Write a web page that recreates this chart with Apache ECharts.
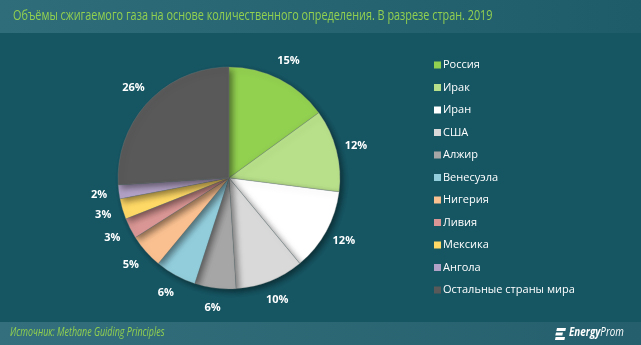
<!DOCTYPE html>
<html>
<head>
<meta charset="utf-8">
<script src="https://cdn.jsdelivr.net/npm/echarts@6/dist/echarts.min.js"></script>
<style>
  html, body { margin: 0; padding: 0; background: #165663; }
  #chart { width: 641px; height: 345px; }
</style>
</head>
<body>
<div id="chart"></div>
<script>
// Flared gas volumes by country, 2019 (share, %)
const countries = ['Россия', 'Ирак', 'Иран', 'США', 'Алжир', 'Венесуэла', 'Нигерия', 'Ливия', 'Мексика', 'Ангола', 'Остальные страны мира'];
const shares = [15, 12, 12, 10, 6, 6, 5, 3, 3, 2, 26];
const sliceColors = ['#92d050', '#b8e08a', '#ffffff', '#d9d9d9', '#a6a6a6', '#92cddc', '#fac090', '#d99694', '#ffd966', '#b3a2c7', '#595959'];

const titleText = 'Объёмы сжигаемого газа на основе количественного определения. В разрезе стран. 2019';
const sourceText = 'Источник: Methane Guiding Principles';

const chart = echarts.init(document.getElementById('chart'), null, { renderer: 'canvas' });

const sans = '"Open Sans", "Noto Sans", sans-serif';
const pieData = countries.map((name, i) => ({ name, value: shares[i] }));

chart.setOption({
  backgroundColor: '#165663',
  animation: false,
  color: sliceColors,
  graphic: [
    // header band
    {
      type: 'rect', left: 0, top: 0, z: -1,
      shape: { width: 641, height: 33 },
      style: {
        fill: new echarts.graphic.LinearGradient(0, 0, 1, 0, [
          { offset: 0, color: '#2f6d7a' },
          { offset: 1, color: '#1f5c6a' }
        ])
      }
    },
    {
      type: 'text', x: 13, y: 9, scaleX: 0.775,
      style: { text: titleText, fill: '#92d050', font: '14px ' + sans }
    },
    // footer band
    {
      type: 'rect', left: 0, top: 322, z: -1,
      shape: { width: 641, height: 23 },
      style: {
        fill: new echarts.graphic.LinearGradient(0, 0, 1, 0, [
          { offset: 0, color: '#336f7c' },
          { offset: 1, color: '#255f6d' }
        ])
      }
    },
    {
      type: 'text', x: 10, y: 327, scaleX: 0.74,
      style: { text: sourceText, fill: '#92d050', font: 'italic 12px ' + sans }
    },
    // EnergyProm logo mark
    {
      type: 'group', x: 555, y: 328,
      children: [
        { type: 'polygon', shape: { points: [[2, 0], [11, 0], [10.3, 3], [1.3, 3]] }, style: { fill: '#ffffff' } },
        { type: 'polygon', shape: { points: [[1, 4.5], [8, 4.5], [7.3, 7.5], [0.3, 7.5]] }, style: { fill: '#ffffff' } },
        { type: 'polygon', shape: { points: [[0.6, 9], [10, 9], [9.4, 12], [0, 12]] }, style: { fill: '#ffffff' } }
      ]
    },
    {
      type: 'text', x: 569, y: 327, scaleX: 0.82,
      style: {
        text: '{a|Energy}{b|Prom}',
        rich: {
          a: { fill: '#ffffff', font: 'italic bold 12px ' + sans },
          b: { fill: '#ffffff', font: 'italic 12px ' + sans }
        }
      }
    }
  ],
  legend: {
    orient: 'vertical',
    left: 429,
    top: 53,
    itemWidth: 7,
    itemHeight: 7,
    itemGap: 8.5,
    icon: 'rect',
    selectedMode: false,
    itemStyle: { borderWidth: 0, shadowBlur: 0, shadowOffsetX: 0, shadowOffsetY: 0 },
    textStyle: { color: '#ffffff', fontSize: 11, lineHeight: 14, fontFamily: sans, padding: [0, 0, 0, -3] },
    data: countries
  },
  series: [
    {
      // the pie itself
      type: 'pie',
      center: [229, 178],
      radius: [0, 111],
      startAngle: 90,
      clockwise: true,
      itemStyle: {
        borderColor: 'rgba(120,130,130,0.6)',
        borderWidth: 0.5,
        shadowBlur: 6,
        shadowOffsetX: 3,
        shadowOffsetY: 3,
        shadowColor: 'rgba(0,0,0,0.45)'
      },
      label: { show: false },
      labelLine: { show: false },
      emphasis: { disabled: true },
      data: pieData
    },
    {
      // transparent ring carrying the centred percentage labels around the pie
      type: 'pie',
      center: [229, 178],
      radius: [118, 138],
      startAngle: 90,
      clockwise: true,
      silent: true,
      z: 3,
      itemStyle: { color: 'rgba(0,0,0,0)', borderWidth: 0 },
      label: {
        show: true,
        position: 'inside',
        formatter: '{c}%',
        color: '#ffffff',
        fontSize: 11,
        fontWeight: 'bold',
        fontFamily: sans
      },
      labelLine: { show: false },
      emphasis: { disabled: true },
      data: pieData
    }
  ]
});
</script>
</body>
</html>
